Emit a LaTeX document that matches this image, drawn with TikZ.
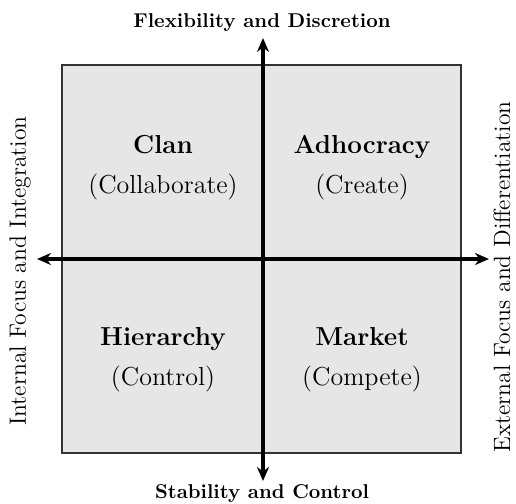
\documentclass[tikz,border=0pt]{standalone}
\usetikzlibrary{arrows.meta}
\definecolor{quadgray}{RGB}{230,230,230}
\begin{document}
\begin{tikzpicture}[x=0.5pt,y=-0.5pt,
  axis/.style={black,line width=1.6pt,{Stealth[length=7pt,width=6pt]}-{Stealth[length=7pt,width=6pt]}},
  quad/.style={align=center,font=\fontsize{13}{20}\selectfont},
  axislabel/.style={font=\bfseries\fontsize{10}{12}\selectfont},
  sidelabel/.style={rotate=90,font=\fontsize{11.8}{14}\selectfont}]
\useasboundingbox (0,0) rectangle (516,504);
\draw[fill=quadgray,draw=black!80,line width=0.6pt] (62,65) rectangle (461,453);
\coordinate (top) at (263,38);
\coordinate (bottom) at (263,481);
\coordinate (left) at (37,259);
\coordinate (right) at (489,259);
\draw[axis] (bottom) -- (top);
\draw[axis] (left) -- (right);
\node[axislabel] (flex) at (262,23) {Flexibility and Discretion};
\node[axislabel] (stab) at (262,494) {Stability and Control};
\node[sidelabel] (internal) at (20,271) {Internal Focus and Integration};
\node[sidelabel] (external) at (502,277) {External Focus and Differentiation};
\node[quad] (clan) at (163,168) {\textbf{Clan}\\(Collaborate)};
\node[quad] (adhocracy) at (362,168) {\textbf{Adhocracy}\\(Create)};
\node[quad] (hierarchy) at (163,360) {\textbf{Hierarchy}\\(Control)};
\node[quad] (market) at (362,360) {\textbf{Market}\\(Compete)};
\end{tikzpicture}
\end{document}
